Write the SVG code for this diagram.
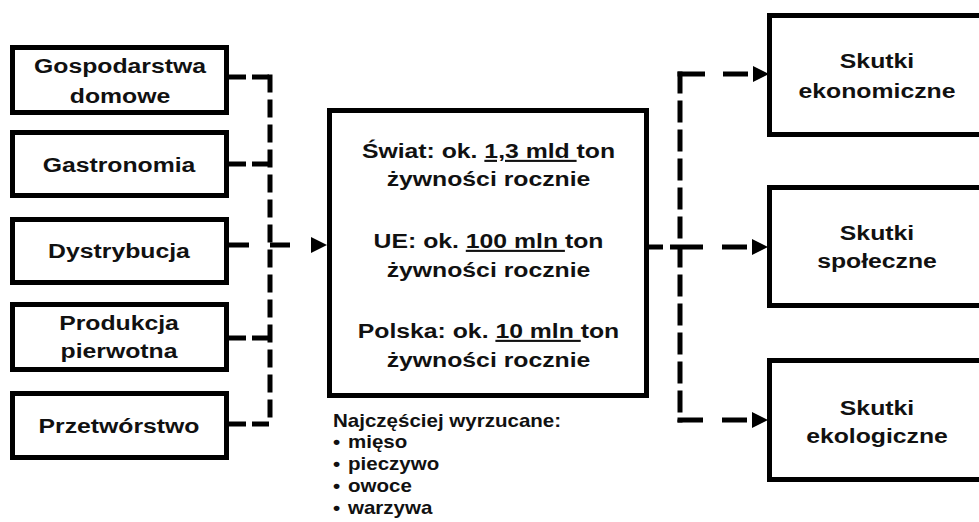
<svg xmlns="http://www.w3.org/2000/svg" width="979" height="522" viewBox="0 0 979 522">
<defs>
<style>
.box{fill:#fff;stroke:#000;stroke-width:5}
.t{font-family:"Liberation Sans",Arial,sans-serif;font-weight:bold;font-size:21px;fill:#111;text-anchor:middle}
.s{font-family:"Liberation Sans",Arial,sans-serif;font-weight:bold;font-size:18px;fill:#111}
.c{fill:none;stroke:#000;stroke-width:5}
</style>
<marker id="ah" markerUnits="userSpaceOnUse" markerWidth="16" markerHeight="18" refX="0" refY="9" orient="auto">
<path d="M0,1 L16,9 L0,17 Z" fill="#000"/>
</marker>
</defs>
<rect width="979" height="522" fill="#fff"/>

<g id="connectors">
<path class="c" d="M229,77 H270" stroke-dasharray="17 6"/>
<path class="c" d="M270,74.5 V424" stroke-dasharray="18 7"/>
<path class="c" d="M229,424 H272.5" stroke-dasharray="17 6"/>
<path class="c" d="M229,164 H272.5" stroke-dasharray="17 6"/>
<path class="c" d="M229,338 H272.5" stroke-dasharray="17 6"/>
<path class="c" d="M229,245 H311" stroke-dasharray="20 21" marker-end="url(#ah)"/>
<path class="c" d="M647,247 H752" stroke-dasharray="16 7 33 19 25 10" marker-end="url(#ah)"/>
<path class="c" d="M677.5,74 H753" stroke-dasharray="27.5 18 25 10" marker-end="url(#ah)"/>
<path class="c" d="M680,71.5 V422.5" stroke-dasharray="22 7"/>
<path class="c" d="M677.5,420 H752" stroke-dasharray="25.5 19 25 10" marker-end="url(#ah)"/>
</g>

<g id="n-gospodarstwa">
<rect class="box" x="12.5" y="47.5" width="214" height="65"/>
<text class="t" transform="translate(120,73) scale(1.18,1)">Gospodarstwa</text>
<text class="t" transform="translate(120,103) scale(1.18,1)">domowe</text>
</g>
<g id="n-gastronomia">
<rect class="box" x="12.5" y="132.5" width="214" height="63"/>
<text class="t" transform="translate(119,172) scale(1.18,1)">Gastronomia</text>
</g>
<g id="n-dystrybucja">
<rect class="box" x="12.5" y="219.5" width="214" height="63"/>
<text class="t" transform="translate(119,258) scale(1.18,1)">Dystrybucja</text>
</g>
<g id="n-produkcja">
<rect class="box" x="12.5" y="304.5" width="214" height="65"/>
<text class="t" transform="translate(119,330) scale(1.18,1)">Produkcja</text>
<text class="t" transform="translate(119,358) scale(1.18,1)">pierwotna</text>
</g>
<g id="n-przetworstwo">
<rect class="box" x="12.5" y="393.5" width="214" height="64"/>
<text class="t" transform="translate(119,433) scale(1.18,1)">Przetwórstwo</text>
</g>

<g id="n-center">
<rect class="box" x="329.5" y="110.5" width="317" height="285"/>
<text class="t" transform="translate(488.5,158) scale(1.18,1)">Świat: ok. <tspan text-decoration="underline">1,3 mld </tspan>ton</text>
<text class="t" transform="translate(488.5,186) scale(1.18,1)">żywności rocznie</text>
<text class="t" transform="translate(488.5,248) scale(1.18,1)">UE: ok. <tspan text-decoration="underline">100 mln </tspan>ton</text>
<text class="t" transform="translate(488.5,277) scale(1.18,1)">żywności rocznie</text>
<text class="t" transform="translate(488.5,338) scale(1.18,1)">Polska: ok. <tspan text-decoration="underline">10 mln </tspan>ton</text>
<text class="t" transform="translate(488.5,367) scale(1.18,1)">żywności rocznie</text>
</g>

<g id="n-list">
<text class="s" transform="translate(333,427) scale(1.14,1)">Najczęściej wyrzucane:</text>
<text class="s" transform="translate(333,448) scale(1.14,1)">•</text>
<text class="s" transform="translate(348,448) scale(1.14,1)">mięso</text>
<text class="s" transform="translate(333,470) scale(1.14,1)">•</text>
<text class="s" transform="translate(348,470) scale(1.14,1)">pieczywo</text>
<text class="s" transform="translate(333,492) scale(1.14,1)">•</text>
<text class="s" transform="translate(348,492) scale(1.14,1)">owoce</text>
<text class="s" transform="translate(333,514) scale(1.14,1)">•</text>
<text class="s" transform="translate(348,514) scale(1.14,1)">warzywa</text>
</g>

<g id="n-ekonomiczne">
<rect class="box" x="769.5" y="15.5" width="220" height="119"/>
<text class="t" transform="translate(877,68) scale(1.18,1)">Skutki</text>
<text class="t" transform="translate(877,98) scale(1.18,1)">ekonomiczne</text>
</g>
<g id="n-spoleczne">
<rect class="box" x="769.5" y="187.5" width="220" height="118"/>
<text class="t" transform="translate(877,240) scale(1.18,1)">Skutki</text>
<text class="t" transform="translate(877,268) scale(1.18,1)">społeczne</text>
</g>
<g id="n-ekologiczne">
<rect class="box" x="769.5" y="360.5" width="220" height="119"/>
<text class="t" transform="translate(877,415) scale(1.18,1)">Skutki</text>
<text class="t" transform="translate(877,443) scale(1.18,1)">ekologiczne</text>
</g>
</svg>
